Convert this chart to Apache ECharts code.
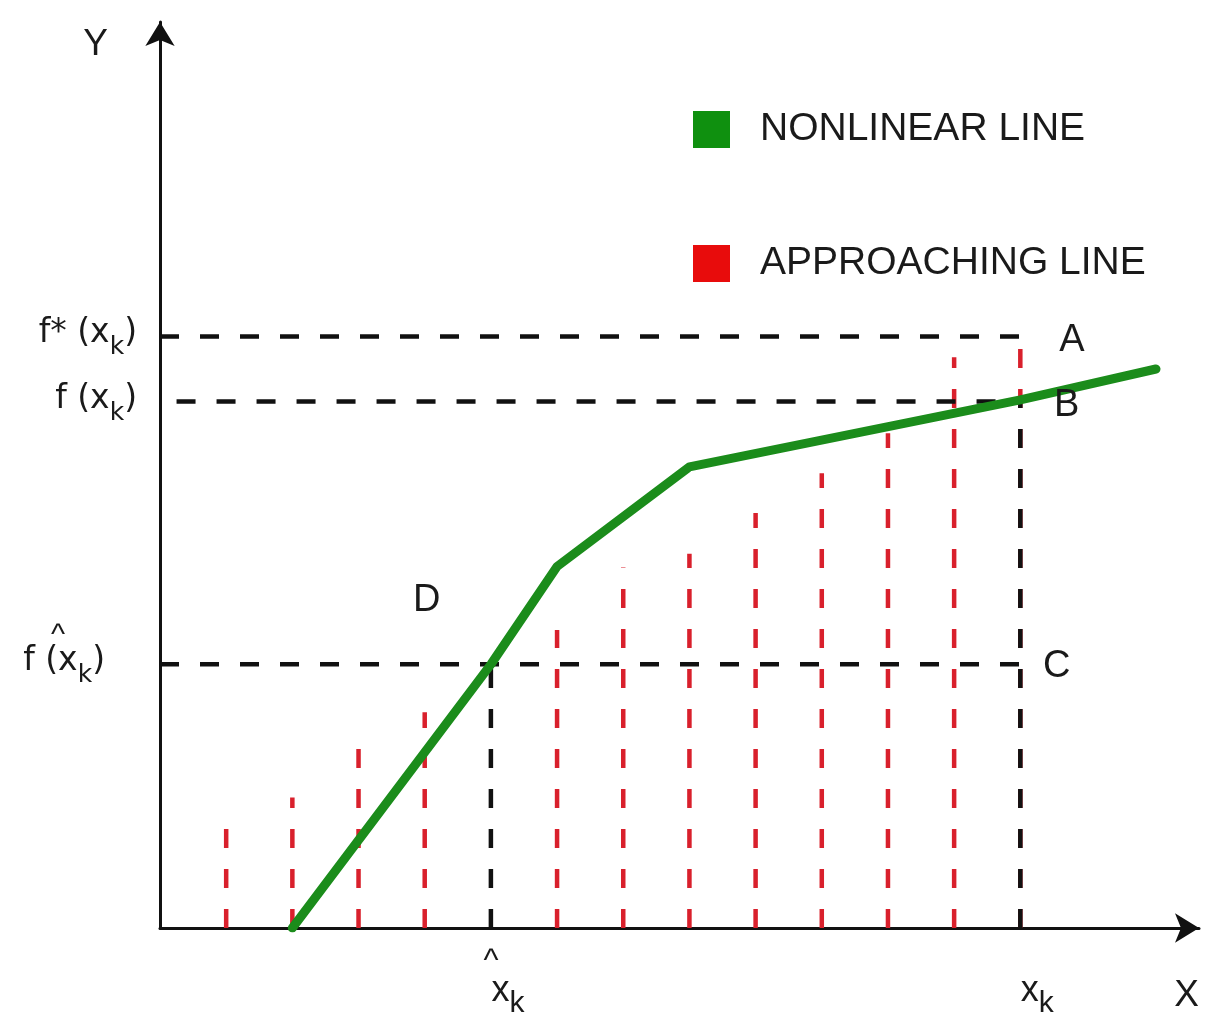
<!DOCTYPE html>
<html>
<head>
<meta charset="utf-8">
<title>Nonlinear line and approaching line</title>
<script src="https://cdn.jsdelivr.net/npm/echarts@6.0.0/dist/echarts.min.js"></script>
<style>
    html, body { margin: 0; padding: 0; background: #fff; }
    #chart { width: 1217px; height: 1018px; }
</style>
</head>
<body>
<div id="chart"></div>
<script>
// nonlinear line (green)
var curveX = [2, 5, 6, 8, 13, 15.05];
var curveY = [0, 29.1, 39.9, 50.9, 58.3, 61.7];

// approaching lines (red, dashed): position and height
var stickX = [1, 2, 3, 4, 6, 7, 8, 9, 10, 11, 12, 13];
var stickTop = [11.1, 14.4, 19.8, 23.8, 32.9, 39.8, 41.3, 45.8, 50.2, 54.6, 63.0, 65.3];

// marked levels
var xHat = 5, xK = 13;
var fStar = 65.3, fK = 58.1, fHat = 29.1;

// tick labels
var yTickValues = [fHat, fK, fStar];
var yTickHead = ['f (x', 'f (x', 'f* (x'];
var yTickHat = [true, false, false];
var xTickValues = [xHat, xK];
var xTickHat = [true, false];

// point letters
var noteNames = ['A', 'B', 'C', 'D'];
var noteX = [13.78, 13.7, 13.55, 4.03];
var noteY = [64.8, 57.7, 28.9, 36.2];

var textColor = '#1a1a1a';
var dash = [19, 21];
var sans = '"Liberation Sans", Arial, sans-serif';
var wide = '"DejaVu Sans", Verdana, sans-serif';

var curveData = curveX.map(function (x, i) { return [x, curveY[i]]; });
var stickData = stickX.map(function (x, i) { return [x, 0, x, stickTop[i]]; });
var guideData = [
    [0, fStar, xK, fStar],
    [0.25, fK, xK, fK],
    [0, fHat, xK, fHat],
    [xHat, 0, xHat, fHat],
    [xK, 0, xK, fK]
];
var noteData = noteNames.map(function (n, i) { return { name: n, value: [noteX[i], noteY[i]] }; });

function segmentRenderer(color, width) {
    return function (params, api) {
        var p0 = api.coord([api.value(0), api.value(1)]);
        var p1 = api.coord([api.value(2), api.value(3)]);
        return {
            type: 'line',
            shape: { x1: p0[0], y1: p0[1], x2: p1[0], y2: p1[1] },
            style: { stroke: color, lineWidth: width, lineDash: dash }
        };
    };
}

var myChart = echarts.init(document.getElementById('chart'));
myChart.setOption({
    animation: false,
    textStyle: { fontFamily: sans },
    legend: {
        data: [
            { name: 'NONLINEAR LINE', itemStyle: { color: '#0f900f' } },
            { name: 'APPROACHING LINE', itemStyle: { color: '#e80c0c' } }
        ],
        orient: 'vertical',
        left: 688,
        top: 105,
        icon: 'rect',
        itemWidth: 37,
        itemHeight: 37,
        itemGap: 95,
        selectedMode: false,
        textStyle: { fontSize: 39, color: textColor, padding: [0, 0, 30, 25] }
    },
    grid: { left: 160, top: 22, width: 1039, height: 906, outerBoundsMode: 'none' },
    xAxis: {
        type: 'value',
        min: 0,
        max: 15.7,
        name: 'X',
        nameLocation: 'end',
        nameGap: 0,
        nameTextStyle: { fontSize: 37, color: textColor, align: 'right', verticalAlign: 'top', padding: [49, 0, 0, 0] },
        splitLine: { show: false },
        axisTick: { show: false },
        axisLine: {
            lineStyle: { color: '#111', width: 3 },
            symbol: ['none', 'arrow'],
            symbolSize: [22, 24]
        },
        axisLabel: {
            customValues: xTickValues,
            margin: 21,
            align: 'center',
            formatter: function (v) {
                var i = xTickValues.indexOf(v);
                return (xTickHat[i] ? '{h|^}' : '{h| }') + '\n{a|x}{s|k}';
            },
            rich: {
                h: { fontSize: 32, lineHeight: 24, color: textColor },
                a: { fontSize: 36, lineHeight: 40, padding: [0, 0, 0, 34], verticalAlign: 'top', color: textColor },
                s: { fontSize: 30, lineHeight: 30, padding: [16, 0, 0, 0], verticalAlign: 'top', color: textColor }
            }
        }
    },
    yAxis: {
        type: 'value',
        min: 0,
        max: 100,
        name: 'Y',
        nameLocation: 'end',
        nameGap: 0,
        nameTextStyle: { fontSize: 37, color: textColor, align: 'right', verticalAlign: 'top', padding: [4, 52, 0, 0] },
        splitLine: { show: false },
        axisTick: { show: false },
        axisLine: {
            lineStyle: { color: '#111', width: 3 },
            symbol: ['none', 'arrow'],
            symbolSize: [22, 24]
        },
        axisLabel: {
            customValues: yTickValues,
            margin: 23,
            formatter: function (v) {
                var i = yTickValues.indexOf(v);
                if (yTickHat[i]) {
                    return '{h|^}\n{t|' + yTickHead[i] + '}{s|k}{c|)}\n{e| }';
                }
                return '{t|' + yTickHead[i] + '}{s|k}{t|)}';
            },
            rich: {
                t: { fontSize: 33, fontFamily: wide, lineHeight: 38, verticalAlign: 'top', color: textColor },
                c: { fontSize: 33, fontFamily: wide, lineHeight: 38, verticalAlign: 'top', padding: [0, 32, 0, 0], color: textColor },
                s: { fontSize: 25, fontFamily: wide, lineHeight: 25, padding: [18, 0, 0, 0], verticalAlign: 'top', color: textColor },
                h: { fontSize: 30, lineHeight: 20, padding: [0, 72, 0, 0], color: textColor },
                e: { fontSize: 10, lineHeight: 20 }
            }
        }
    },
    series: [
        {
            name: 'APPROACHING LINE',
            type: 'custom',
            z: 2,
            itemStyle: { color: '#d9202c' },
            renderItem: segmentRenderer('#d9202c', 4.5),
            encode: { x: [0, 2], y: [1, 3] },
            data: stickData
        },
        {
            name: 'guides',
            type: 'custom',
            z: 3,
            renderItem: segmentRenderer('#111', 4.5),
            encode: { x: [0, 2], y: [1, 3] },
            data: guideData
        },
        {
            name: 'NONLINEAR LINE',
            type: 'line',
            z: 4,
            color: '#1b8c1b',
            showSymbol: false,
            symbol: 'none',
            lineStyle: { width: 9, color: '#1b8c1b', cap: 'round', join: 'round' },
            data: curveData
        },
        {
            name: 'notes',
            type: 'scatter',
            z: 5,
            symbolSize: 0,
            silent: true,
            itemStyle: { opacity: 1 },
            label: {
                show: true,
                position: 'inside',
                formatter: '{b}',
                fontSize: 38,
                color: textColor,
                opacity: 1
            },
            data: noteData
        }
    ]
});
</script>
</body>
</html>
